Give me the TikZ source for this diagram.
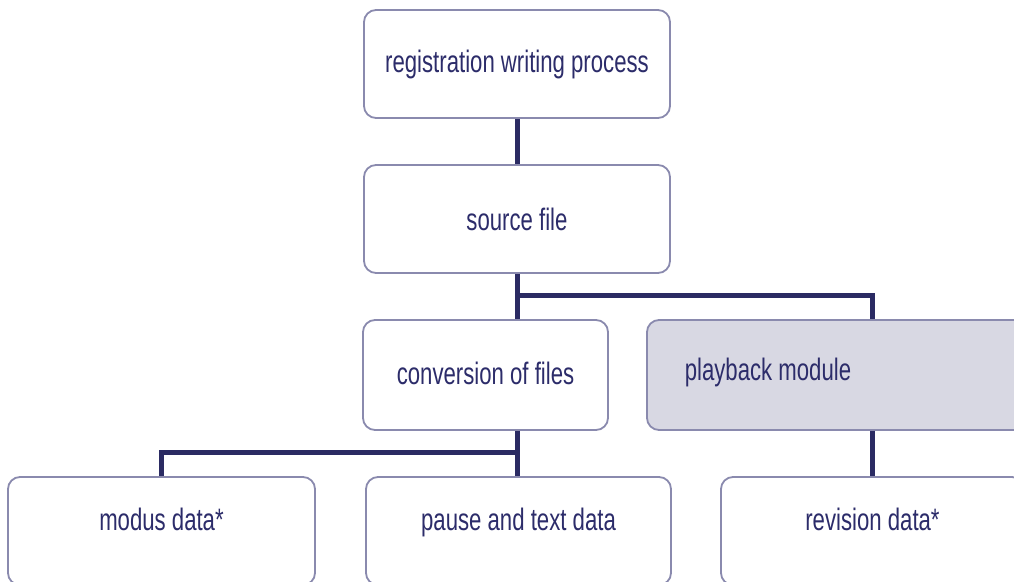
\documentclass[tikz,border=0pt]{standalone}
\usepackage{fontspec}
\setmainfont{Liberation Sans}[FakeStretch=0.715]
\usepackage{tikz}
\usetikzlibrary{calc}
\definecolor{Ink}{HTML}{2C2C6A}
\definecolor{Link}{HTML}{2B2B63}
\definecolor{Frame}{HTML}{8A8AAE}
\definecolor{Shade}{HTML}{D8D8E3}
\tikzset{
flowbox/.style={draw=Frame, line width=1.8pt, rounded corners=12pt, fill=white, text=Ink, align=center, inner sep=0pt, minimum height=108pt},
flowshade/.style={flowbox, fill=Shade},
flowlow/.style={flowbox, text depth=24pt},
flowtext/.style={text=Ink, inner sep=0pt},
flowlink/.style={draw=Link, line width=5pt}
}
\begin{document}
\begin{tikzpicture}[x=1pt, y=1pt, font=\fontsize{31}{35}\selectfont]
  \useasboundingbox (0,0) rectangle (1014,581);
  \clip (0,0) rectangle (1014,581);
  \node[flowbox, minimum width=306pt] (reg) at (517,517) {registration writing process};
  \node[flowbox, minimum width=306pt] (src) at (517,362) {source file};
  \node[flowbox, minimum width=245pt, minimum height=110pt, text depth=4pt] (conv) at (485.5,206) {conversion of files};
  \node[flowshade, minimum width=383pt, minimum height=110pt] (play) at (838.5,206) {};
  \node[flowtext] (playtxt) at (768,209) {playback module};
  \node[flowlow, minimum width=307pt] (modus) at (161.5,50) {modus data*};
  \node[flowlow, minimum width=305pt] (pause) at (518.5,50) {pause and text data};
  \node[flowlow, minimum width=303pt] (rev) at (872.5,50) {revision data*};
  \coordinate (split1) at (517,285);
  \coordinate (split2) at (517,128);
  \draw[flowlink] (reg.south) -- (src.north);
  \draw[flowlink] (src.south) -- (src.south |- conv.north);
  \draw[flowlink] (split1) -| (play.north -| rev.north);
  \draw[flowlink] (src.south |- conv.south) -- (src.south |- pause.north);
  \draw[flowlink] (split2) -| (modus.north);
  \draw[flowlink] (play.south -| rev.north) -- (rev.north);
\end{tikzpicture}
\end{document}
